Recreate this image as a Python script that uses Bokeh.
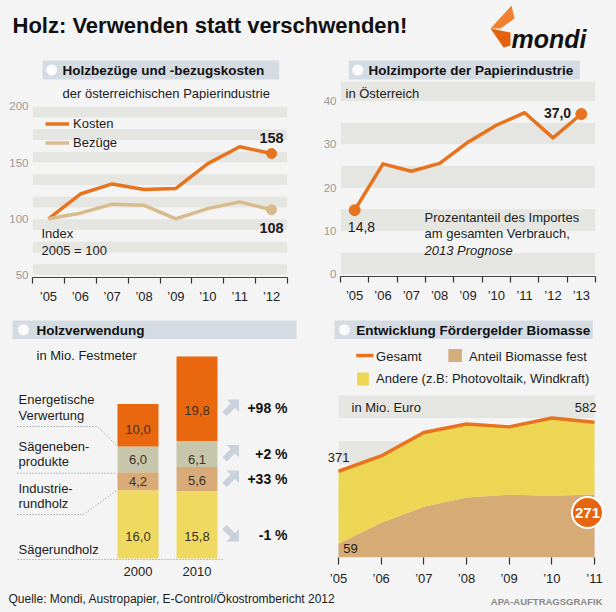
import numpy as np
from bokeh.plotting import figure
from bokeh.layouts import column, row
from bokeh.models import Range1d, FixedTicker, Legend, LegendItem
from bokeh.embed import file_html
from bokeh.resources import INLINE
from bokeh.core.properties import value

FONT = "Liberation Sans"
BG = "#f4f4f4"
STRIPE = "#e5e5e2"
HEAD = "#d4dbe2"
ORANGE = "#e8731e"
TANLINE = "#d8bb8c"
TXT = "#1c1c1c"

# ---------------- data ----------------
years1 = ["’05", "’06", "’07", "’08", "’09", "’10", "’11", "’12"]
kosten = [100, 122, 131, 126, 127, 149, 164, 158]
bezuege = [100, 105, 113, 112, 100, 109, 115, 108]
yticks1 = [50, 100, 150, 200]

years2 = ["’05", "’06", "’07", "’08", "’09", "’10", "’11", "’12", "’13"]
importe = [14.8, 25.5, 23.8, 25.6, 30.5, 34.4, 37.3, 31.5, 37.0]
yticks2 = [0, 10, 20, 30, 40]

bar_years = ["2000", "2010"]
saegerundholz = [16.0, 15.8]
industrierundholz = [4.2, 5.6]
saegeneben = [6.0, 6.1]
energetisch = [10.0, 19.8]

years4 = ["’05", "’06", "’07", "’08", "’09", "’10", "’11"]
gesamt = [371, 437, 538, 574, 562, 600, 582]
biomasse = [59, 150, 218, 258, 270, 266, 271]


# ---------------- helpers ----------------
def style(p):
    p.background_fill_color = BG
    p.border_fill_color = BG
    p.outline_line_color = None
    for g in p.grid:
        g.visible = False


def pixfig(w, h):
    p = figure(width=w, height=h, x_range=Range1d(0, w), y_range=Range1d(h, 0),
               x_axis_location=None, y_axis_location=None,
               output_backend="svg", toolbar_location=None, min_border=0)
    style(p)
    return p


def txt(p, x, y, s, size="13px", bold=False, italic=False, align="left",
        color=TXT, baseline="middle"):
    fs = "normal"
    if bold and italic:
        fs = "bold italic"
    elif bold:
        fs = "bold"
    elif italic:
        fs = "italic"
    p.text(x=[x], y=[y], text=[s], text_font=value(FONT), text_font_size=size,
           text_font_style=fs, text_align=align, text_baseline=baseline,
           text_color=color)


def header(p, x0, x1, y0, y1, title):
    cy = (y0 + y1) / 2
    p.quad(left=[x0], right=[x1], top=[y0], bottom=[y1], fill_color=HEAD, line_color=None)
    p.scatter(x=[x0 + 11], y=[cy], size=11, fill_color="#fbfbfb", line_color=None)
    txt(p, x0 + 24, cy + 0.5, title, size="13.5px", bold=True, color="#111111")


def cat_xaxis(ax, labels):
    n = len(labels)
    ax.ticker = FixedTicker(ticks=list(range(n)), minor_ticks=[i - 0.5 for i in range(n + 1)])
    ax.major_label_overrides = {i: s for i, s in enumerate(labels)}
    ax.major_tick_out = 0
    ax.major_tick_in = 0
    ax.minor_tick_out = 6
    ax.minor_tick_in = 0
    ax.minor_tick_line_color = "#333333"
    ax.minor_tick_line_width = 1.2
    ax.axis_line_color = "#444444"
    ax.major_label_text_font = FONT
    ax.major_label_text_font_size = "13px"
    ax.major_label_text_color = "#222222"
    ax.major_label_standoff = 5


def num_yaxis(ax, ticks):
    ax.ticker = FixedTicker(ticks=ticks)
    ax.axis_line_color = None
    ax.major_tick_out = 0
    ax.major_tick_in = 0
    ax.minor_tick_out = 0
    ax.major_tick_line_color = None
    ax.major_label_text_font = FONT
    ax.major_label_text_font_size = "11.5px"
    ax.major_label_text_color = "#9a9a9a"
    ax.major_label_standoff = 4


# ---------------- title ----------------
ptitle = pixfig(616, 58)
txt(ptitle, 12, 25, "Holz: Verwenden statt verschwenden!", size="22px", bold=True, color="#111111")
ptitle.patch([511, 514, 500, 490], [5, 18, 28, 28], fill_color="#ef8130", line_color=None)
ptitle.patch([490, 510, 510, 503], [28, 32, 45, 47], fill_color="#e2620e", line_color=None)
txt(ptitle, 511, 38, "mondi", size="25px", bold=True, italic=True, color="#111111",
    baseline="alphabetic")

# ---------------- panel 1 ----------------
h1 = pixfig(306, 42)
header(h1, 12, 296, 2, 21, "Holzbezüge und -bezugskosten")
txt(h1, 36, 35, "der österreichischen Papierindustrie", size="13px")

X1 = lambda px: (px - 48) / 31.875
Y1 = lambda py: 100 + (218.3 - py) / 1.125

c1 = figure(width=306, height=212, x_range=Range1d(-0.5, 7.5), y_range=Range1d(47.8, 201.6),
            min_border_left=32, min_border_right=19, min_border_top=4, min_border_bottom=35,
            output_backend="svg", toolbar_location=None)
style(c1)
sb = list(range(50, 200, 20))
c1.quad(left=-0.5, right=7.5, bottom=sb, top=[b + 9.5 for b in sb], fill_color=STRIPE, line_color=None)
xs1 = list(range(len(years1)))
rk = c1.line(xs1, kosten, line_width=3.5, color=ORANGE, line_join="round")
rb = c1.line(xs1, bezuege, line_width=3.5, color=TANLINE, line_join="round")
c1.scatter([xs1[-1]], [kosten[-1]], size=10, color=ORANGE)
c1.scatter([xs1[-1]], [bezuege[-1]], size=10, color=TANLINE)
txt(c1, xs1[-1], Y1(138), str(kosten[-1]), size="14.5px", bold=True, align="center")
txt(c1, xs1[-1], Y1(228), str(bezuege[-1]), size="14.5px", bold=True, align="center")
txt(c1, X1(41), Y1(233), "Index", size="13px")
txt(c1, X1(41), Y1(250), "2005 = 100", size="13px")
leg1 = Legend(items=[LegendItem(label="Kosten", renderers=[rk]),
                     LegendItem(label="Bezüge", renderers=[rb])],
              location=(13, 125), padding=0, margin=0, spacing=0,
              glyph_width=24, glyph_height=19, label_height=19, label_standoff=4,
              label_text_font=FONT, label_text_font_size="13px", label_text_color=TXT,
              border_line_color=None, background_fill_alpha=0)
c1.add_layout(leg1)
cat_xaxis(c1.xaxis[0], years1)
num_yaxis(c1.yaxis[0], yticks1)

# ---------------- panel 2 ----------------
h2 = pixfig(310, 23)
header(h2, 10, 291, 2, 21, "Holzimporte der Papierindustrie")

X2 = lambda px: (px - 354.17) / 28.333
Y2 = lambda py: (274 - py) / 4.333

c2 = figure(width=310, height=231, x_range=Range1d(-0.5, 8.5), y_range=Range1d(-0.5, 44.5),
            min_border_left=34, min_border_right=21, min_border_top=0, min_border_bottom=36,
            output_backend="svg", toolbar_location=None)
style(c2)
sb2 = [0, 10, 20, 30, 40]
c2.quad(left=-0.5, right=8.5, bottom=sb2, top=[b + 5 for b in sb2], fill_color=STRIPE, line_color=None)
xs2 = list(range(len(years2)))
c2.line(xs2, importe, line_width=3.5, color=ORANGE, line_join="round")
c2.scatter([xs2[0], xs2[-1]], [importe[0], importe[-1]], size=11, color=ORANGE)
txt(c2, X2(345), Y2(93), "in Österreich", size="13px")
txt(c2, X2(361), Y2(227), f"{importe[0]:.1f}".replace(".", ","), size="14px", align="center")
txt(c2, X2(557), Y2(113), f"{importe[-1]:.1f}".replace(".", ","), size="14px", bold=True, align="center")
txt(c2, X2(424), Y2(217), "Prozentanteil des Importes", size="13px")
txt(c2, X2(424), Y2(233), "am gesamten Verbrauch,", size="13px")
txt(c2, X2(424), Y2(250), "2013 Prognose", size="13px", italic=True)
cat_xaxis(c2.xaxis[0], years2)
num_yaxis(c2.yaxis[0], yticks2)

# ---------------- panel 3 ----------------
h3 = pixfig(306, 28)
header(h3, 12, 296, 8, 26.5, "Holzverwendung")

X3 = lambda px: (px - 137.5) / 59.0
Y3 = lambda py: (558 - py) / 4.27

c3 = figure(width=306, height=250, x_range=Range1d(X3(0), X3(306)), y_range=Range1d(-0.937, 51.05),
            min_border_left=0, min_border_right=0, min_border_top=0, min_border_bottom=28,
            y_axis_location=None, output_backend="svg", toolbar_location=None)
style(c3)
segs = [saegerundholz, industrierundholz, saegeneben, energetisch]
seg_colors = ["#efd960", "#d9ab78", "#c8c6aa", "#e8670f"]
bx = [0, 1]
bottom = np.zeros(2)
for vals, col in zip(segs, seg_colors):
    v = np.array(vals)
    c3.vbar(x=bx, bottom=bottom, top=bottom + v, width=0.695, fill_color=col, line_color=None)
    bottom = bottom + v

# value labels (row positions as in the reference)
label_rows = [[536, 536], [481, 480], [459, 459], [429, 410]]
for vals, rows in zip(segs, label_rows):
    for i in range(2):
        txt(c3, bx[i], Y3(rows[i]), f"{vals[i]:.1f}".replace(".", ","), size="13px",
            align="center", color="#3a3328")

# left labels
for s, py in [("Energetische", 399), ("Verwertung", 415), ("Sägeneben-", 446.5),
              ("produkte", 461), ("Industrie-", 488), ("rundholz", 503.5), ("Sägerundholz", 549)]:
    txt(c3, X3(18), Y3(py), s, size="13px")
txt(c3, X3(36), Y3(355), "in Mio. Festmeter", size="13px")

dots = [[(17, 426), (97, 426), (116, 445)],
        [(17, 472.7), (116, 472.7)],
        [(17, 514), (83, 514), (116, 490)],
        [(17, 559), (222, 559)]]
c3.multi_line([[X3(a) for a, b in d] for d in dots], [[Y3(b) for a, b in d] for d in dots],
              line_color="#8a8a8a", line_width=1, line_dash="1 2")

# change arrows and percentages
arrow_shape = [(8, 8), (-4.5, 8), (-0.4, 3.9), (-8.6, -4.3), (-4.3, -8.6), (3.9, -0.4), (8, -4.5)]
rows_y = [533, 478, 452.5, 407]
txt_y = [535, 479, 454, 407.5]
for k in range(4):
    a, b = segs[k]
    ch = round((b / a - 1) * 100)
    sgn = 1 if ch >= 0 else -1
    cx, cy = 230.5, rows_y[k]
    c3.patch([X3(cx + dx) for dx, dy in arrow_shape],
             [Y3(cy - sgn * dy) for dx, dy in arrow_shape],
             fill_color="#c9d1da", line_color=None)
    txt(c3, X3(287), Y3(txt_y[k]), f"{ch:+d} %", size="14px", bold=True, align="right",
        color="#111111")

ax3 = c3.xaxis[0]
ax3.ticker = FixedTicker(ticks=bx)
ax3.major_label_overrides = {i: s for i, s in enumerate(bar_years)}
ax3.axis_line_color = None
ax3.major_tick_out = 0
ax3.major_tick_in = 0
ax3.minor_tick_out = 0
ax3.major_tick_line_color = None
ax3.major_label_text_font = FONT
ax3.major_label_text_font_size = "13px"
ax3.major_label_text_color = "#222222"
ax3.major_label_standoff = 4

# ---------------- panel 4 ----------------
h4 = pixfig(310, 78)
header(h4, 10, 296, 8, 26.5, "Entwicklung Fördergelder Biomasse")
h4.line([34, 53], [43, 43], line_width=3.5, color=ORANGE)
txt(h4, 56, 43.5, "Gesamt", size="13px")
h4.quad(left=[136], right=[151], top=[36.5], bottom=[49.5], fill_color="#d5ad7c", line_color=None)
txt(h4, 159, 43.5, "Anteil Biomasse fest", size="13px")
h4.quad(left=[35], right=[48], top=[60], bottom=[73], fill_color="#eed655", line_color=None)
txt(h4, 56, 66, "Andere (z.B: Photovoltaik, Windkraft)", size="13px")

X4 = lambda px: (px - 338) / 42.667
Y4 = lambda py: (557 - py) / 0.2325

c4 = figure(width=310, height=200, x_range=Range1d(-0.305, 6.258), y_range=Range1d(0, 697),
            min_border_left=19, min_border_right=11, min_border_top=5, min_border_bottom=33,
            y_axis_location=None, output_backend="svg", toolbar_location=None)
style(c4)
xs4 = list(range(len(years4)))
sb4 = [0, 200, 400, 600]
c4.quad(left=0, right=xs4[-1], bottom=sb4, top=[b + 100 for b in sb4], fill_color=STRIPE, line_color=None)
c4.varea(x=xs4, y1=[0] * len(xs4), y2=biomasse, fill_color="#d6ab75")
c4.varea(x=xs4, y1=biomasse, y2=gesamt, fill_color="#eed655")
c4.line(xs4, gesamt, line_width=3.5, color=ORANGE, line_join="round")
txt(c4, X4(351), Y4(407), "in Mio. Euro", size="13px")
txt(c4, xs4[-1] - 0.21, Y4(407), str(gesamt[-1]), size="13px", align="center")
txt(c4, xs4[0], Y4(457), str(gesamt[0]), size="13px", align="center")
txt(c4, X4(350), Y4(548), str(biomasse[0]), size="13px", align="center")
c4.scatter([X4(587)], [Y4(512)], size=31, fill_color="#e8650f", line_color="white", line_width=2)
txt(c4, X4(587), Y4(512.5), str(biomasse[-1]), size="15px", bold=True, align="center", color="white")

ax4 = c4.xaxis[0]
ax4.ticker = FixedTicker(ticks=xs4)
ax4.major_label_overrides = {i: s for i, s in enumerate(years4)}
ax4.axis_line_color = None
ax4.major_tick_out = 7
ax4.major_tick_in = 0
ax4.minor_tick_out = 0
ax4.major_tick_line_color = "#333333"
ax4.major_tick_line_width = 1.2
ax4.major_label_text_font = FONT
ax4.major_label_text_font_size = "13px"
ax4.major_label_text_color = "#222222"
ax4.major_label_standoff = 6

# ---------------- footer ----------------
pf = pixfig(616, 22)
txt(pf, 8, 8, "Quelle: Mondi, Austropapier, E-Control/Ökostrombericht 2012", size="12px")
txt(pf, 602, 11, "APA-AUFTRAGSGRAFIK", size="9.5px", bold=True, align="right", color="#8a8a8a")

layout = column(ptitle,
                row(column(h1, c1), column(h2, c2)),
                row(column(h3, c3), column(h4, c4)),
                pf)

html = file_html(layout, INLINE)
html = html.replace("<head>", "<head><style>body{background:#f4f4f4;}</style>", 1)
open("out.html", "w").write(html)
